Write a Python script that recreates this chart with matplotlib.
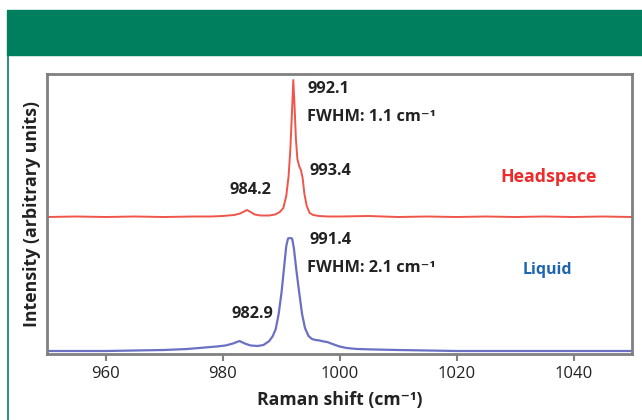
import matplotlib
matplotlib.use("Agg")
import matplotlib.pyplot as plt
from matplotlib.patches import Rectangle
from matplotlib.lines import Line2D

plt.rcParams['font.family'] = ['Open Sans', 'DejaVu Sans']

# Headspace spectrum (Raman shift, intensity in arbitrary units)
head_x = [950, 955, 960, 965, 970, 975, 978, 980, 982, 983, 983.7, 984.2, 984.8,
          985.5, 986.5, 988, 989, 989.8, 990.4, 990.9, 991.3, 991.6, 991.9, 992.1,
          992.3, 992.55, 992.8, 993.1, 993.4, 993.7, 994.0, 994.4, 994.9, 995.5,
          996.5, 998, 1000, 1005, 1010, 1015, 1020, 1025, 1030, 1035, 1040, 1045, 1050]
head_y = [137, 137.5, 137, 137.5, 137, 137.5, 137.5, 138, 139, 140.5, 142.5, 144, 142,
          139.5, 138.5, 138.5, 139.5, 142, 146, 158, 178, 205, 245, 274,
          250, 215, 195, 188, 184, 176, 160, 148, 141, 139,
          138, 137.5, 137.5, 138, 137, 137.5, 137, 137.5, 137, 137.5, 137, 137.5, 137]

# Liquid spectrum
liq_x = [950, 955, 960, 965, 970, 974, 977, 979, 980.5, 981.8, 982.9, 983.8, 984.8,
         986, 987, 988, 988.6, 989.1, 989.6, 990.1, 990.5, 990.9, 991.2, 991.5, 991.9,
         992.2, 992.6, 993.1, 993.6, 994.1, 994.7, 995.3, 995.9, 996.6, 997.3, 997.9,
         998.8, 1000, 1001.2, 1003, 1006, 1010, 1015, 1020, 1030, 1040, 1050]
liq_y = [3, 3, 3, 3.5, 4, 5, 6.5, 7.5, 8.5, 10.5, 13, 10.5, 8.5,
         8, 9, 13, 18, 25, 40, 62, 85, 108, 115.5, 116, 115.5,
         106, 85, 62, 40, 26, 18, 15, 14, 13.5, 12.5, 12,
         10, 7.5, 6, 5, 4.5, 4, 3.5, 3, 3, 3, 3]

x_ticks = [960, 980, 1000, 1020, 1040]
x_label = "Raman shift (cm\u207b\u00b9)"
y_label = "Intensity (arbitrary units)"

fig = plt.figure(figsize=(6.42, 4.2), dpi=100)
W, H = 642, 420

# green header band and left border
fig.patches.append(Rectangle((7 / W, 1 - 55 / H), 1 - 7 / W, 45 / H,
                             transform=fig.transFigure, color="#007F5F", zorder=0))
fig.lines.append(Line2D([8 / W, 8 / W], [0, 1 - 55 / H], transform=fig.transFigure,
                        color="#007F5F", lw=1.2))

ax = fig.add_axes([47 / W, 1 - 354 / H, 585 / W, 280.5 / H])
ax.plot(head_x, head_y, color="#F0554A", lw=1.4)
ax.plot(liq_x, liq_y, color="#6B70C4", lw=1.6)
ax.set_xlim(950, 1050)
ax.set_ylim(0, 280.5)
ax.set_yticks([])
ax.set_xticks(x_ticks)
for s in ax.spines.values():
    s.set_color("#808080")
    s.set_linewidth(2)
ax.tick_params(axis="x", direction="out", length=5, width=1.5, color="#808080",
               labelsize=12, labelcolor="#222222", pad=4)
ax.set_xlabel(x_label, fontsize=12.7, fontweight="bold", color="#222222", labelpad=6)
ax.set_ylabel(y_label, fontsize=12.8, fontweight="bold", color="#222222", labelpad=4)

tkw = dict(fontsize=11.8, fontweight="bold", color="#222222")
ax.text(994.6, 265, "992.1", va="center", ha="left", **tkw)
ax.text(994.4, 237, "FWHM: 1.1 cm\u207b\u00b9", va="center", ha="left", **tkw)
ax.text(994.9, 183, "993.4", va="center", ha="left", **tkw)
ax.text(984.7, 164, "984.2", va="center", ha="center", **tkw)
ax.text(994.9, 114, "991.4", va="center", ha="left", **tkw)
ax.text(994.4, 86, "FWHM: 2.1 cm\u207b\u00b9", va="center", ha="left", **tkw)
ax.text(985.2, 40, "982.9", va="center", ha="center", **tkw)
ax.text(1035.8, 177, "Headspace", va="center", ha="center", fontsize=12.8,
        fontweight="bold", color="#EE2A2A")
ax.text(1035.6, 84, "Liquid", va="center", ha="center", fontsize=11.5,
        fontweight="bold", color="#1E64B4")

fig.savefig("out.png", dpi=100)
